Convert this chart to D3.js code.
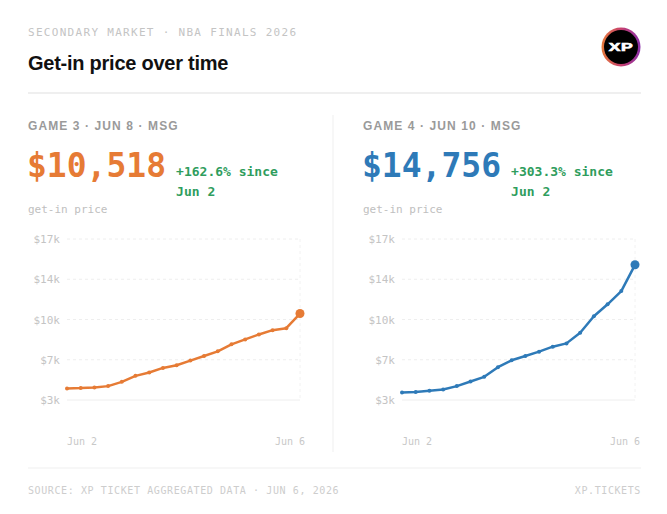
<!DOCTYPE html>
<html lang="en">
<head>
    <meta charset="UTF-8">
    <title>Get-in price over time</title>
    <script src="https://d3js.org/d3.v7.min.js"></script>
    <style>
        body { margin: 0; background: #fff; }
        svg { display: block; }
        .mono { font-family: "DejaVu Sans Mono", monospace; }
        .sans { font-family: "Liberation Sans", Arial, sans-serif; }
    </style>
</head>
<body>
    <div id="chart"></div>

    <script>
        // data
        const steps = d3.range(18);
        const xTickLabels = ["Jun 2", "Jun 6"];
        const yTicks = [3000, 6500, 10000, 13500, 17000];

        const game3Prices = [4005, 4034, 4092, 4207, 4581, 5100, 5388, 5791, 6022, 6425,
                             6828, 7232, 7837, 8269, 8701, 9075, 9248, 10518];
        const game4Prices = [3659, 3689, 3804, 3919, 4207, 4610, 5013, 5849, 6454, 6828,
                             7203, 7635, 7923, 8845, 10285, 11322, 12474, 14756];

        const panels = [
            { label: "GAME 3 · JUN 8 · MSG", values: game3Prices, color: "#e67b35", change: "+162.6%" },
            { label: "GAME 4 · JUN 10 · MSG", values: game4Prices, color: "#2e7ab8", change: "+303.3%" }
        ];

        const W = 667, H = 514;
        const svg = d3.select("#chart").append("svg").attr("width", W).attr("height", H);

        // header
        svg.append("text").attr("class", "mono")
            .attr("x", 28).attr("y", 36)
            .attr("font-size", 11).attr("letter-spacing", 1.3).attr("fill", "#c4c4c4")
            .text("SECONDARY MARKET · NBA FINALS 2026");

        svg.append("text").attr("class", "sans")
            .attr("x", 28).attr("y", 70)
            .attr("font-size", 20).attr("font-weight", "bold").attr("letter-spacing", -0.25)
            .attr("fill", "#111")
            .text("Get-in price over time");

        // logo
        const grad = svg.append("defs").append("linearGradient")
            .attr("id", "ring").attr("x1", "0").attr("y1", "0").attr("x2", "1").attr("y2", "0");
        grad.append("stop").attr("offset", "0%").attr("stop-color", "#e5793a");
        grad.append("stop").attr("offset", "50%").attr("stop-color", "#c7406f");
        grad.append("stop").attr("offset", "100%").attr("stop-color", "#8a2fa8");

        const logo = svg.append("g").attr("transform", "translate(621,47)");
        logo.append("circle").attr("r", 19.5).attr("fill", "url(#ring)");
        logo.append("circle").attr("r", 17).attr("fill", "#000");
        logo.append("text").attr("class", "sans")
            .attr("text-anchor", "middle").attr("y", 3.6)
            .attr("font-size", 10).attr("font-weight", "900").attr("fill", "#fff")
            .attr("letter-spacing", 0.3)
            .attr("stroke", "#fff").attr("stroke-width", 0.6)
            .attr("transform", "scale(1.75,1)")
            .text("XP");

        svg.append("line")
            .attr("x1", 28).attr("x2", 641).attr("y1", 93).attr("y2", 93)
            .attr("stroke", "#eaeaea").attr("stroke-width", 1.5);

        // divider between the two panels
        svg.append("line")
            .attr("x1", 333).attr("x2", 333).attr("y1", 115).attr("y2", 452)
            .attr("stroke", "#efefef");

        const y = d3.scaleLinear().domain([3000, 17000]).range([400, 239]);
        const fmtK = d => "$" + Math.round(d / 1000) + "k";

        panels.forEach((p, i) => {
            const g = svg.append("g").attr("transform", `translate(${28 + i * 335},0)`);

            g.append("text").attr("class", "sans")
                .attr("x", 0).attr("y", 130)
                .attr("font-size", 12).attr("font-weight", "bold").attr("letter-spacing", 1.1)
                .attr("fill", "#9a9a9a")
                .text(p.label);

            const last = p.values[p.values.length - 1];
            const big = g.append("text").attr("class", "mono")
                .attr("x", -1).attr("y", 177)
                .attr("font-size", 33).attr("font-weight", "bold").attr("fill", p.color)
                .text(d3.format("$,")(last));
            const bw = big.node().getComputedTextLength();

            const chg = g.append("text").attr("class", "mono")
                .attr("font-size", 13).attr("font-weight", "bold").attr("fill", "#2f9d5d");
            chg.append("tspan").attr("x", bw + 9).attr("y", 176).text(p.change + " since");
            chg.append("tspan").attr("x", bw + 9).attr("y", 196).text(xTickLabels[0]);

            g.append("text").attr("class", "mono")
                .attr("x", 0).attr("y", 213)
                .attr("font-size", 11).attr("fill", "#c0c0c0")
                .text("get-in price");

            // plot
            const x = d3.scalePoint().domain(steps).range([39, 272]);

            const grid = g.append("g");
            grid.selectAll("line.h").data(yTicks.slice(1)).join("line")
                .attr("x1", 39).attr("x2", 272)
                .attr("y1", d => y(d)).attr("y2", d => y(d))
                .attr("stroke", "#eeeeee").attr("stroke-dasharray", "3,3");
            grid.append("line")
                .attr("x1", 39).attr("x2", 272).attr("y1", y(3000)).attr("y2", y(3000))
                .attr("stroke", "#eeeeee");
            grid.append("line")
                .attr("x1", 272).attr("x2", 272).attr("y1", y(17000)).attr("y2", y(3000))
                .attr("stroke", "#f2f2f2").attr("stroke-dasharray", "3,3");

            const yAxis = g.append("g").attr("transform", "translate(32,0)")
                .call(d3.axisLeft(y).tickValues(yTicks).tickFormat(fmtK).tickSize(0).tickPadding(0));
            yAxis.select(".domain").remove();
            yAxis.selectAll("text").attr("class", "mono")
                .attr("font-size", 11).attr("fill", "#c4c4c4");

            g.append("text").attr("class", "mono")
                .attr("x", x(steps[0])).attr("y", 445)
                .attr("font-size", 10).attr("fill", "#c8c8c8")
                .text(xTickLabels[0]);
            g.append("text").attr("class", "mono")
                .attr("x", x(steps[steps.length - 1]) + 5).attr("y", 445)
                .attr("text-anchor", "end")
                .attr("font-size", 10).attr("fill", "#c8c8c8")
                .text(xTickLabels[1]);

            const line = d3.line()
                .x((d, j) => x(steps[j]))
                .y(d => y(d));

            g.append("path").datum(p.values)
                .attr("d", line)
                .attr("fill", "none").attr("stroke", p.color)
                .attr("stroke-width", 2.5).attr("stroke-linejoin", "round");

            g.selectAll("circle.pt").data(p.values).join("circle")
                .attr("class", "pt")
                .attr("cx", (d, j) => x(steps[j]))
                .attr("cy", d => y(d))
                .attr("r", (d, j) => j === p.values.length - 1 ? 4.5 : 2)
                .attr("fill", p.color);
        });

        // footer
        svg.append("line")
            .attr("x1", 28).attr("x2", 641).attr("y1", 468).attr("y2", 468)
            .attr("stroke", "#efefef");
        svg.append("text").attr("class", "mono")
            .attr("x", 28).attr("y", 494)
            .attr("font-size", 10).attr("letter-spacing", 0.6).attr("fill", "#cdcdcd")
            .text("SOURCE: XP TICKET AGGREGATED DATA · JUN 6, 2026");
        svg.append("text").attr("class", "mono")
            .attr("x", 641).attr("y", 494).attr("text-anchor", "end")
            .attr("font-size", 10).attr("letter-spacing", 0.6).attr("fill", "#cdcdcd")
            .text("XP.TICKETS");
    </script>
</body>
</html>
